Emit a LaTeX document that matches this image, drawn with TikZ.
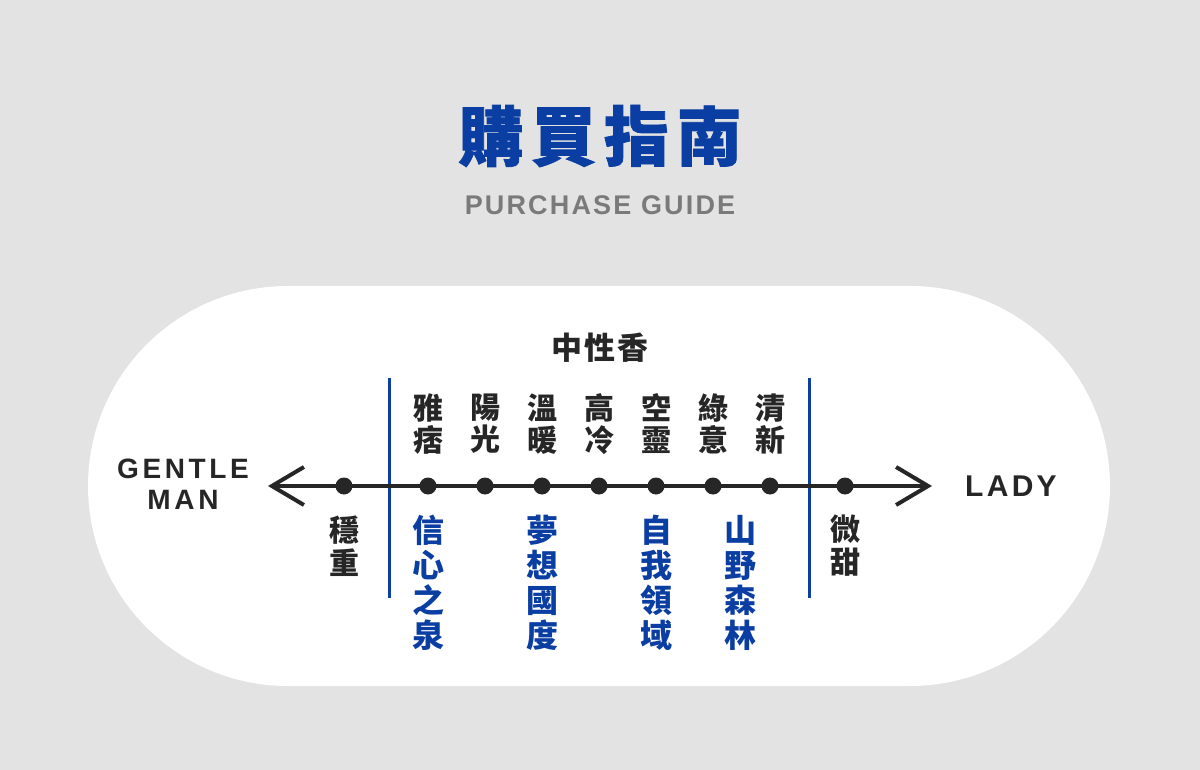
\documentclass[tikz,border=0pt]{standalone}
\usepackage{fontspec}
\setmainfont{Liberation Sans}
\newfontfamily\cjk{Noto Sans CJK TC}
\usetikzlibrary{arrows.meta}
\definecolor{bg}{HTML}{E3E3E3}
\definecolor{navy}{HTML}{0B3EA2}
\definecolor{ink}{HTML}{262626}
\definecolor{subgray}{HTML}{7A7A7A}
\tikzset{
  dot/.style={circle,fill=ink,inner sep=0pt,minimum size=17pt},
  toplbl/.style={font=\cjk\bfseries\fontsize{30}{32}\selectfont,text=ink,align=center,inner sep=0pt},
  botlbl/.style={font=\cjk\bfseries\fontsize{30}{33}\selectfont,text=ink,align=center,inner sep=0pt},
  bluelbl/.style={font=\cjk\bfseries\fontsize{32}{35}\selectfont,text=navy,align=center,inner sep=0pt},
  endlbl/.style={font=\bfseries\fontsize{28}{31}\selectfont\addfontfeatures{LetterSpace=13},text=ink,align=center,inner sep=0pt},
  divider/.style={navy,line width=3pt},
}
\begin{document}
\begin{tikzpicture}[x=1pt,y=-1pt]
\fill[bg] (0,0) rectangle (1200,770);
\useasboundingbox (0,0) rectangle (1200,770);
\fill[white,rounded corners=200pt] (88,286) rectangle (1110,686);
% title
\node[font=\cjk\bfseries\fontsize{65}{65}\selectfont\addfontfeatures{LetterSpace=12,FakeBold=1.2},text=navy,inner sep=0pt] (title) at (600,136) {購買指南};
\node[font=\bfseries\fontsize{27}{27}\selectfont\addfontfeatures{LetterSpace=8},text=subgray,inner sep=0pt] (sub) at (600,205) {PURCHASE GUIDE};
\node[font=\cjk\bfseries\fontsize{31}{31}\selectfont\addfontfeatures{LetterSpace=8},text=ink,inner sep=0pt] (neutral) at (600,348) {中性香};
% dividers
\coordinate (d1t) at (389,378); \coordinate (d1b) at (389,598);
\coordinate (d2t) at (809,378); \coordinate (d2b) at (809,598);
\draw[divider] (d1t) -- (d1b);
\draw[divider] (d2t) -- (d2b);
% axis
\coordinate (la) at (268,486);
\coordinate (ra) at (932,486);
\draw[ink,line width=3.5pt,line cap=round,line join=round,
  {Straight Barb[length=32pt,width=38pt,line width=4pt]}-{Straight Barb[length=32pt,width=38pt,line width=4pt]}] (la) -- (ra);
% dots
\foreach \n/\x in {p0/344,p1/428,p2/485,p3/542,p4/599,p5/656,p6/713,p7/770,p8/845}{
  \node[dot] (\n) at (\x,486) {};
}
% top labels
\node[toplbl] (t1) at (428,424) {雅\\痞};
\node[toplbl] (t2) at (485,424) {陽\\光};
\node[toplbl] (t3) at (542,424) {溫\\暖};
\node[toplbl] (t4) at (599,424) {高\\冷};
\node[toplbl] (t5) at (656,424) {空\\靈};
\node[toplbl] (t6) at (713,424) {綠\\意};
\node[toplbl] (t7) at (770,424) {清\\新};
% bottom labels
\node[botlbl] (b0) at (344,546) {穩\\重};
\node[botlbl] (b8) at (845,546) {微\\甜};
\node[bluelbl] (s1) at (428,583) {信\\心\\之\\泉};
\node[bluelbl] (s2) at (542,583) {夢\\想\\國\\度};
\node[bluelbl] (s3) at (656,583) {自\\我\\領\\域};
\node[bluelbl] (s4) at (740,583) {山\\野\\森\\林};
% ends
\node[endlbl] (gm) at (183,484) {GENTLE\\MAN};
\node[endlbl,font=\bfseries\fontsize{30}{32}\selectfont\addfontfeatures{LetterSpace=11}] (lady) at (1011,486) {LADY};
\end{tikzpicture}
\end{document}
